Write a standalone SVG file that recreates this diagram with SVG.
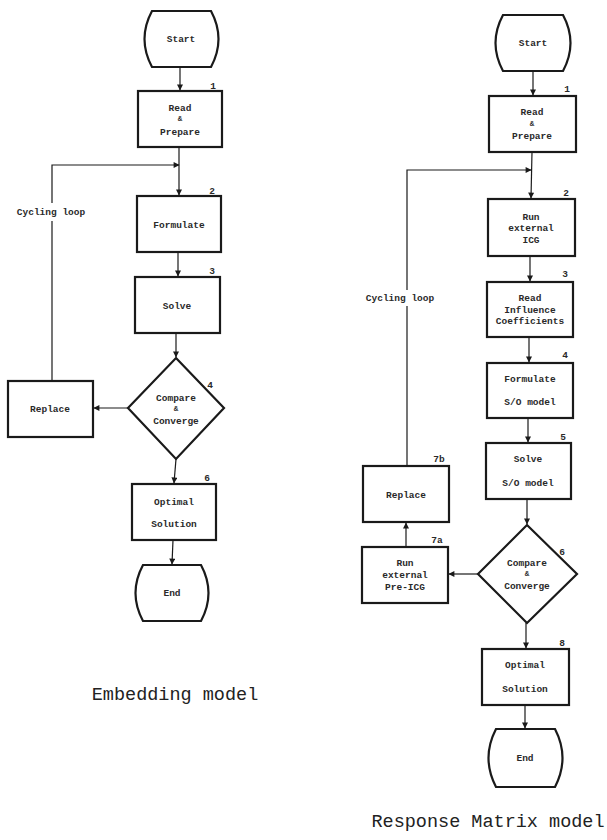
<svg xmlns="http://www.w3.org/2000/svg" width="607" height="840" viewBox="0 0 607 840">
<defs>
<marker id="ah" viewBox="0 0 10 10" refX="9" refY="5" markerWidth="7" markerHeight="6" markerUnits="userSpaceOnUse" orient="auto">
<path d="M0,0 L10,5 L0,10 Z" fill="#1a1a1a"/>
</marker>
<style>
.box{fill:#fff;stroke:#1a1a1a;stroke-width:2.2}
.t{font-family:"Liberation Mono","DejaVu Sans Mono",monospace;font-size:9.5px;font-weight:bold;fill:#2a2a2a;text-anchor:middle;dominant-baseline:central}
.amp{font-size:7.5px}
.num{font-family:"Liberation Mono","DejaVu Sans Mono",monospace;font-size:9.5px;font-weight:bold;fill:#2a2a2a;text-anchor:middle;dominant-baseline:central}
.cap{font-family:"Liberation Mono","Courier New",monospace;font-size:18.5px;fill:#222;text-anchor:middle;dominant-baseline:central}
.c{fill:none;stroke:#1a1a1a;stroke-width:1.2}
.ca{fill:none;stroke:#1a1a1a;stroke-width:1.2;marker-end:url(#ah)}
</style>
</defs>
<rect width="607" height="840" fill="#fff"/>

<!-- LEFT: Embedding model -->
<g id="L-start"><path class="box" d="M152,11 L211,11 Q226,39 211,67 L152,67 Q137,39 152,11 Z"/><text class="t" x="181" y="39">Start</text></g>
<g id="L-n1"><rect class="box" x="138" y="91" width="84" height="56"/><text class="num" x="213" y="86">1</text><text class="t" x="180" y="108">Read</text><text class="t amp" x="180" y="119">&amp;</text><text class="t" x="180" y="132">Prepare</text></g>
<g id="L-n2"><rect class="box" x="137" y="196" width="84" height="56"/><text class="num" x="212" y="191">2</text><text class="t" x="179" y="225">Formulate</text></g>
<g id="L-n3"><rect class="box" x="135" y="277" width="85" height="56"/><text class="num" x="212" y="271">3</text><text class="t" x="177" y="306">Solve</text></g>
<g id="L-n4"><path class="box" d="M176,358 L224,408 L176,459 L128,408 Z"/><text class="num" x="210" y="385">4</text><text class="t" x="176" y="398">Compare</text><text class="t amp" x="176" y="409">&amp;</text><text class="t" x="176" y="421">Converge</text></g>
<g id="L-replace"><rect class="box" x="8" y="381" width="85" height="56"/><text class="t" x="50" y="409">Replace</text></g>
<g id="L-n6"><rect class="box" x="132" y="484" width="84" height="56"/><text class="num" x="207" y="478">6</text><text class="t" x="174" y="502">Optimal</text><text class="t" x="174" y="524">Solution</text></g>
<g id="L-end"><path class="box" d="M143,565 L201,565 Q216,593 201,621 L143,621 Q128,593 143,565 Z"/><text class="t" x="172" y="593">End</text></g>
<g id="L-loop-label"><text class="t" x="51" y="212">Cycling loop</text></g>
<g id="L-caption"><text class="cap" x="175" y="695">Embedding model</text></g>

<g id="L-connectors">
<path class="ca" d="M180,67 L180,90"/>
<path class="ca" d="M179,147 L179,195"/>
<path class="ca" d="M178,252 L178,276"/>
<path class="ca" d="M176,333 L176,357"/>
<path class="ca" d="M128,408 L94,408"/>
<path class="c" d="M52,381 L52,221"/>
<path class="ca" d="M52,203 L52,165 L179,165"/>
<path class="ca" d="M176,459 L174,483"/>
<path class="ca" d="M173,540 L172,564"/>
</g>

<!-- RIGHT: Response Matrix model -->
<g id="R-start"><path class="box" d="M503,15 L563,15 Q578,43 563,71 L503,71 Q488,43 503,15 Z"/><text class="t" x="533" y="43">Start</text></g>
<g id="R-n1"><rect class="box" x="489" y="96" width="87" height="56"/><text class="num" x="567" y="89">1</text><text class="t" x="532" y="112">Read</text><text class="t amp" x="532" y="124">&amp;</text><text class="t" x="532" y="136">Prepare</text></g>
<g id="R-n2"><rect class="box" x="488" y="199" width="87" height="57"/><text class="num" x="566" y="193">2</text><text class="t" x="531" y="217">Run</text><text class="t" x="531" y="228">external</text><text class="t" x="531" y="240">ICG</text></g>
<g id="R-n3"><rect class="box" x="487" y="282" width="86" height="55"/><text class="num" x="565" y="274">3</text><text class="t" x="530" y="298">Read</text><text class="t" x="530" y="310">Influence</text><text class="t" x="530" y="321">Coefficients</text></g>
<g id="R-n4"><rect class="box" x="487" y="363" width="86" height="55"/><text class="num" x="565" y="355">4</text><text class="t" x="530" y="379">Formulate</text><text class="t" x="530" y="402">S/O model</text></g>
<g id="R-n5"><rect class="box" x="486" y="443" width="85" height="56"/><text class="num" x="563" y="437">5</text><text class="t" x="528" y="459">Solve</text><text class="t" x="528" y="483">S/O model</text></g>
<g id="R-n6"><path class="box" d="M527,525 L577,574 L527,623 L478,574 Z"/><text class="num" x="562" y="552">6</text><text class="t" x="527" y="563">Compare</text><text class="t amp" x="527" y="574">&amp;</text><text class="t" x="527" y="586">Converge</text></g>
<g id="R-n7b"><rect class="box" x="363" y="466" width="86" height="56"/><text class="num" x="439" y="459">7b</text><text class="t" x="406" y="495">Replace</text></g>
<g id="R-n7a"><rect class="box" x="362" y="547" width="86" height="56"/><text class="num" x="437" y="540">7a</text><text class="t" x="405" y="563">Run</text><text class="t" x="405" y="575">external</text><text class="t" x="405" y="587">Pre-ICG</text></g>
<g id="R-n8"><rect class="box" x="482" y="649" width="87" height="56"/><text class="num" x="562" y="643">8</text><text class="t" x="525" y="665">Optimal</text><text class="t" x="525" y="689">Solution</text></g>
<g id="R-end"><path class="box" d="M496,729 L555,729 Q570,758 555,787 L496,787 Q481,758 496,729 Z"/><text class="t" x="525" y="758">End</text></g>
<g id="R-loop-label"><text class="t" x="400" y="298">Cycling loop</text></g>
<g id="R-caption"><text class="cap" x="488" y="822">Response Matrix model</text></g>

<g id="R-connectors">
<path class="ca" d="M533,71 L533,95"/>
<path class="ca" d="M532,152 L531,198"/>
<path class="ca" d="M530,256 L530,281"/>
<path class="ca" d="M529,337 L529,362"/>
<path class="ca" d="M528,418 L528,442"/>
<path class="ca" d="M527,499 L527,524"/>
<path class="ca" d="M478,574 L449,574"/>
<path class="ca" d="M406,547 L406,523"/>
<path class="c" d="M407,466 L407,306"/>
<path class="ca" d="M407,290 L407,170 L531,170"/>
<path class="ca" d="M526,623 L526,648"/>
<path class="ca" d="M525,705 L525,728"/>
</g>
</svg>
